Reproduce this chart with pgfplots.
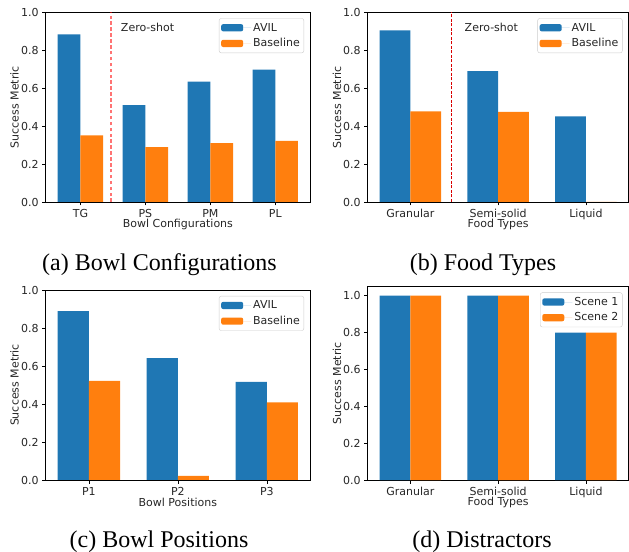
\documentclass[border=0pt]{standalone}
\usepackage{fontspec}
\setmainfont{Liberation Serif}
\newfontfamily\chartfont{DejaVu Sans}
\usepackage{pgfplots}
\pgfplotsset{compat=1.18}

\definecolor{tabblue}{HTML}{1F77B4}
\definecolor{taborange}{HTML}{FF7F0E}
\newcommand\cf{\chartfont\fontsize{11bp}{13bp}\selectfont}

\pgfplotsset{
  mpl/.style={
    scale only axis,
    ybar, bar width=0.35,
    ymin=0, ymax=1,
    ytick={0,0.2,0.4,0.6,0.8,1.0},
    yticklabel={\pgfmathprintnumber[fixed,fixed zerofill,precision=1]{\tick}},
    /pgf/number format/assume math mode=true,
    tick align=outside, major tick length=3.5bp,
    xtick pos=bottom, ytick pos=left,
    axis line style={black, line width=0.6bp},
    tick style={black, line width=0.6bp},
    tick label style={font=\cf, text=black!85},
    ylabel={Success Metric},
    every axis y label/.style={at={(axis description cs:-0.118,0.5)}, rotate=90,
      anchor=center, font=\cf, text=black!85},
    every axis x label/.style={at={(axis description cs:0.5,0)}, anchor=center,
      yshift=-22bp, font=\cf, text=black!85},
    legend cell align=left,
    legend style={at={(1,1)}, xshift=-6bp, yshift=-6bp, anchor=north east,
      draw=black!20, rounded corners=2bp, font=\cf, text=black!85,
      inner xsep=2bp, inner ysep=2.5bp, row sep=2bp},
    legend image code/.code={\fill[##1, draw=none] (0bp,-3.6bp) rectangle (22bp,3.6bp);
      \path (0bp,0bp) -- (30bp,0bp);},
  },
  avil/.style={fill=tabblue, draw=none, bar shift=-0.175},
  base/.style={fill=taborange, draw=none, bar shift=0.175},
}

\begin{document}
\begin{tikzpicture}
\useasboundingbox (0bp,0bp) rectangle (629bp,552bp);

% (a) Bowl Configurations
\begin{axis}[mpl, at={(45.7bp,350bp)}, anchor=south west,
  width=264.3bp, height=189.7bp,
  xmin=-0.535, xmax=3.535,
  xtick={0,1,2,3}, xticklabels={TG,PS,PM,PL},
  xlabel={Bowl Configurations}]
\addplot[avil] coordinates {(0,0.884) (1,0.511) (2,0.635) (3,0.698)};
\addplot[base] coordinates {(0,0.351) (1,0.289) (2,0.310) (3,0.322)};
\legend{AVIL,Baseline}
\addplot[sharp plot, red, opacity=0.55, line width=1.3bp, dash pattern=on 3.5bp off 2.4bp, forget plot]
  coordinates {(0.47,0) (0.47,1)};
\node[font=\cf, text=black!85, anchor=west] at (axis cs:0.57,0.92) {Zero-shot};
\end{axis}

% (b) Food Types
\begin{axis}[mpl, at={(367.7bp,350bp)}, anchor=south west,
  width=260.8bp, height=189.7bp,
  xmin=-0.485, xmax=2.485,
  xtick={0,1,2}, xticklabels={Granular,Semi-solid,Liquid},
  xlabel={Food Types}]
\addplot[avil] coordinates {(0,0.905) (1,0.690) (2,0.452)};
\addplot[base] coordinates {(0,0.478) (1,0.475) (2,0)};
\legend{AVIL,Baseline}
\addplot[sharp plot, red!85!black, line width=0.7bp, dash pattern=on 3bp off 1.5bp, forget plot]
  coordinates {(0.47,0) (0.47,1)};
\node[font=\cf, text=black!85, anchor=west] at (axis cs:0.58,0.92) {Zero-shot};
\end{axis}

% (c) Bowl Positions
\begin{axis}[mpl, at={(45.7bp,72bp)}, anchor=south west,
  width=264.3bp, height=190bp,
  xmin=-0.485, xmax=2.485,
  xtick={0,1,2}, xticklabels={P1,P2,P3},
  xlabel={Bowl Positions}]
\addplot[avil] coordinates {(0,0.889) (1,0.641) (2,0.516)};
\addplot[base] coordinates {(0,0.522) (1,0.022) (2,0.408)};
\legend{AVIL,Baseline}
\end{axis}

% (d) Distractors
\begin{axis}[mpl, at={(367.7bp,72bp)}, anchor=south west,
  width=260.8bp, height=193.5bp,
  xmin=-0.485, xmax=2.485, ymax=1.05,
  xtick={0,1,2}, xticklabels={Granular,Semi-solid,Liquid},
  xlabel={Food Types}]
\addplot[avil] coordinates {(0,1.0) (1,1.0) (2,0.8)};
\addplot[base] coordinates {(0,1.0) (1,1.0) (2,0.8)};
\legend{Scene 1,Scene 2}
\end{axis}

\node[font=\fontsize{24bp}{28bp}\selectfont, anchor=base] at (159.5bp,281bp) {(a) Bowl Configurations};
\node[font=\fontsize{24bp}{28bp}\selectfont, anchor=base] at (483bp,281bp) {(b) Food Types};
\node[font=\fontsize{24bp}{28bp}\selectfont, anchor=base] at (159bp,5bp) {(c) Bowl Positions};
\node[font=\fontsize{24bp}{28bp}\selectfont, anchor=base] at (482bp,5bp) {(d) Distractors};
\end{tikzpicture}
\end{document}
